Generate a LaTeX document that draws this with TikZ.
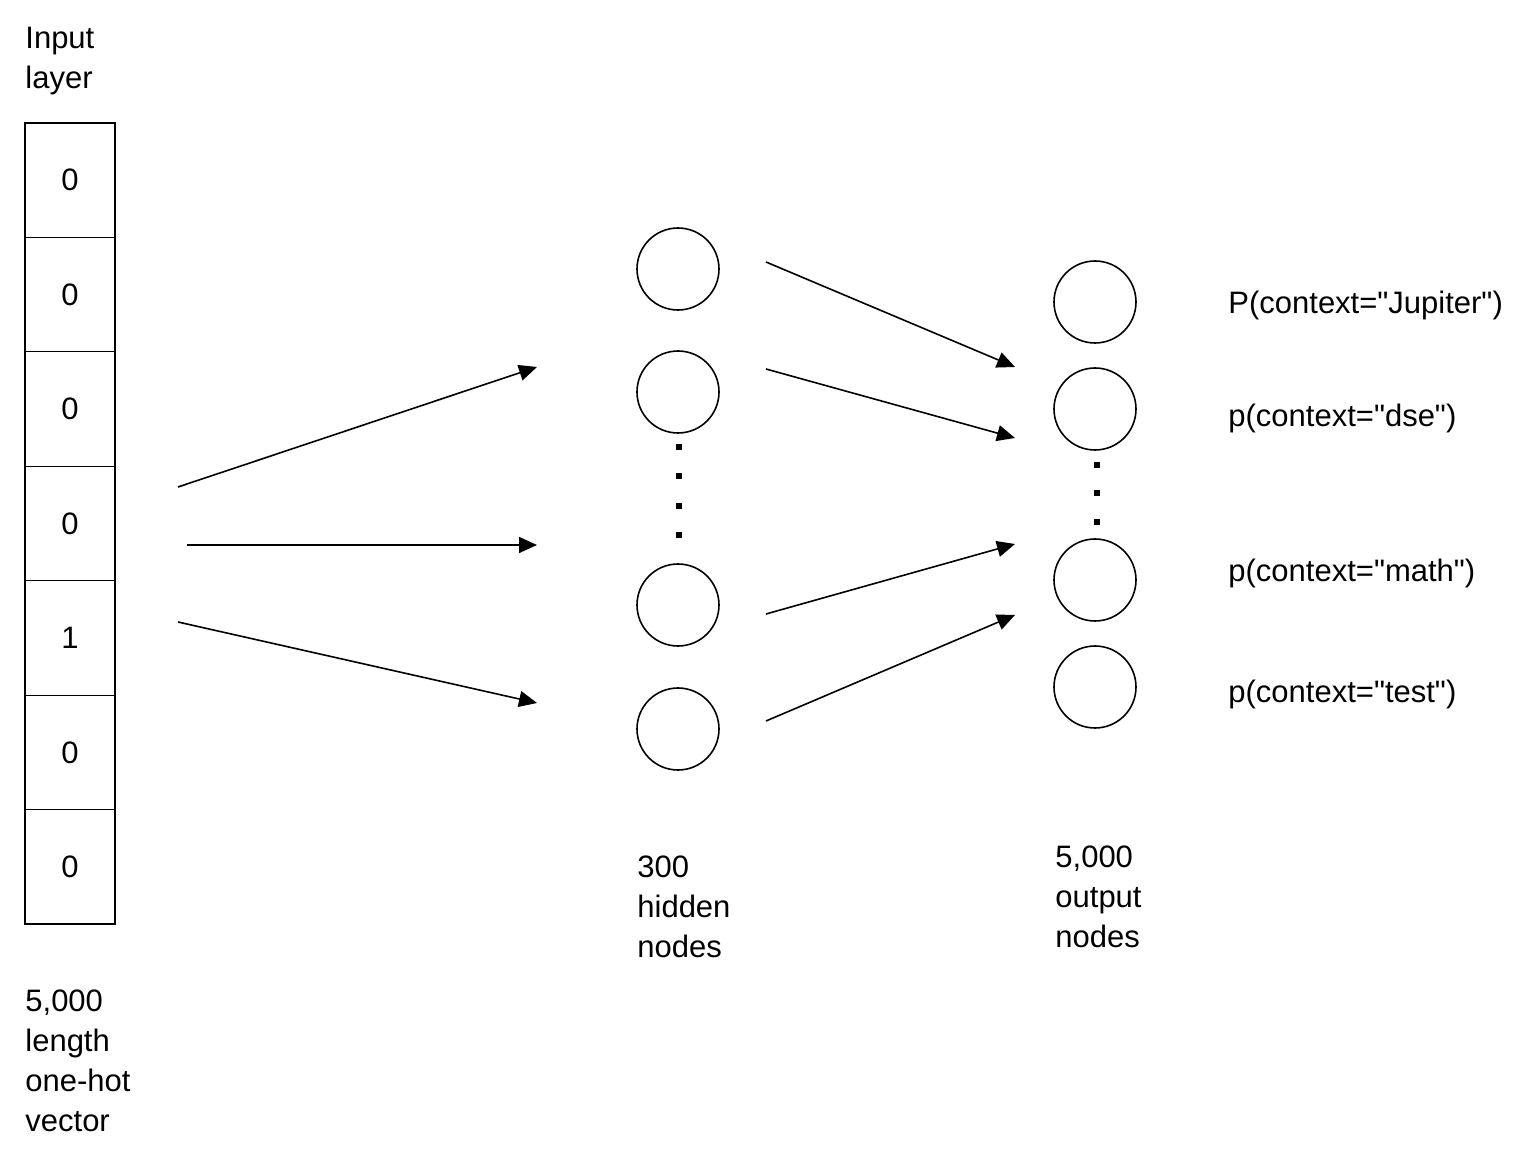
\documentclass[tikz,border=0pt]{standalone}
\usepackage{fontspec}
\setmainfont{Liberation Sans}[Ligatures=TeXOff]
\usetikzlibrary{arrows.meta}
\begin{document}
\begin{tikzpicture}[x=0.5pt,y=-0.5pt,
  every node/.style={font=\fontsize{15.5}{20}\selectfont},
  cell/.style={draw,line width=0.6pt,minimum width=45pt,minimum height=57.2pt,inner sep=0pt},
  neuron/.style={draw,circle,line width=0.8pt,minimum size=41pt,inner sep=0pt},
  lbl/.style={anchor=north west,align=left,inner sep=0pt},
  plbl/.style={anchor=base west,inner sep=0pt},
  conn/.style={line width=0.8pt,-{Triangle[length=9pt,width=8pt]}},
  sq/.style={fill=black,inner sep=0pt,minimum size=2.6pt}]
\useasboundingbox (0,0) rectangle (1532,1154);
% input vector
\foreach \v/\i in {0/1,0/2,0/3,0/4,1/5,0/6,0/7}{
  \node[cell] (c\i) at (70,{123+114.43*(\i-0.5)}) {\v};
}
\node[lbl] (inlbl) at (25,27) {Input\\layer};
\node[lbl] (veclbl) at (25,989) {5,000\\length\\one-hot\\vector};
% hidden
\node[neuron] (h1) at (678,269) {};
\node[neuron] (h2) at (678,392) {};
\node[neuron] (h3) at (678,605) {};
\node[neuron] (h4) at (678,729) {};
\foreach \y/\k in {447/1,476/2,506/3,535/4}{\node[sq] (hd\k) at (679,\y) {};}
\node[lbl] (hidlbl) at (637,855) {300\\hidden\\nodes};
% output
\node[neuron] (o1) at (1095,302) {};
\node[neuron] (o2) at (1095,409) {};
\node[neuron] (o3) at (1095,580) {};
\node[neuron] (o4) at (1095,687) {};
\foreach \y/\k in {465/1,493/2,522/3}{\node[sq] (od\k) at (1097,\y) {};}
\node[lbl] (outlbl) at (1055,845) {5,000\\output\\nodes};
% probability labels
\node[plbl] (p1) at (1228,314) {P(context="Jupiter")};
\node[plbl] (p2) at (1228,427) {p(context="dse")};
\node[plbl] (p3) at (1228,582) {p(context="math")};
\node[plbl] (p4) at (1228,703) {p(context="test")};
% arrow end coordinates
\coordinate (a1s) at (178,487); \coordinate (a1e) at (537,367);
\coordinate (a2s) at (187,545); \coordinate (a2e) at (537,545);
\coordinate (a3s) at (178,622); \coordinate (a3e) at (537,703);
\coordinate (b1s) at (766,262); \coordinate (b1e) at (1015,367);
\coordinate (b2s) at (766,369); \coordinate (b2e) at (1015,438);
\coordinate (b3s) at (766,614); \coordinate (b3e) at (1015,544);
\coordinate (b4s) at (766,721); \coordinate (b4e) at (1015,615);
\draw[conn] (a1s) -- (a1e);
\draw[conn] (a2s) -- (a2e);
\draw[conn] (a3s) -- (a3e);
\draw[conn] (b1s) -- (b1e);
\draw[conn] (b2s) -- (b2e);
\draw[conn] (b3s) -- (b3e);
\draw[conn] (b4s) -- (b4e);
\end{tikzpicture}
\end{document}
